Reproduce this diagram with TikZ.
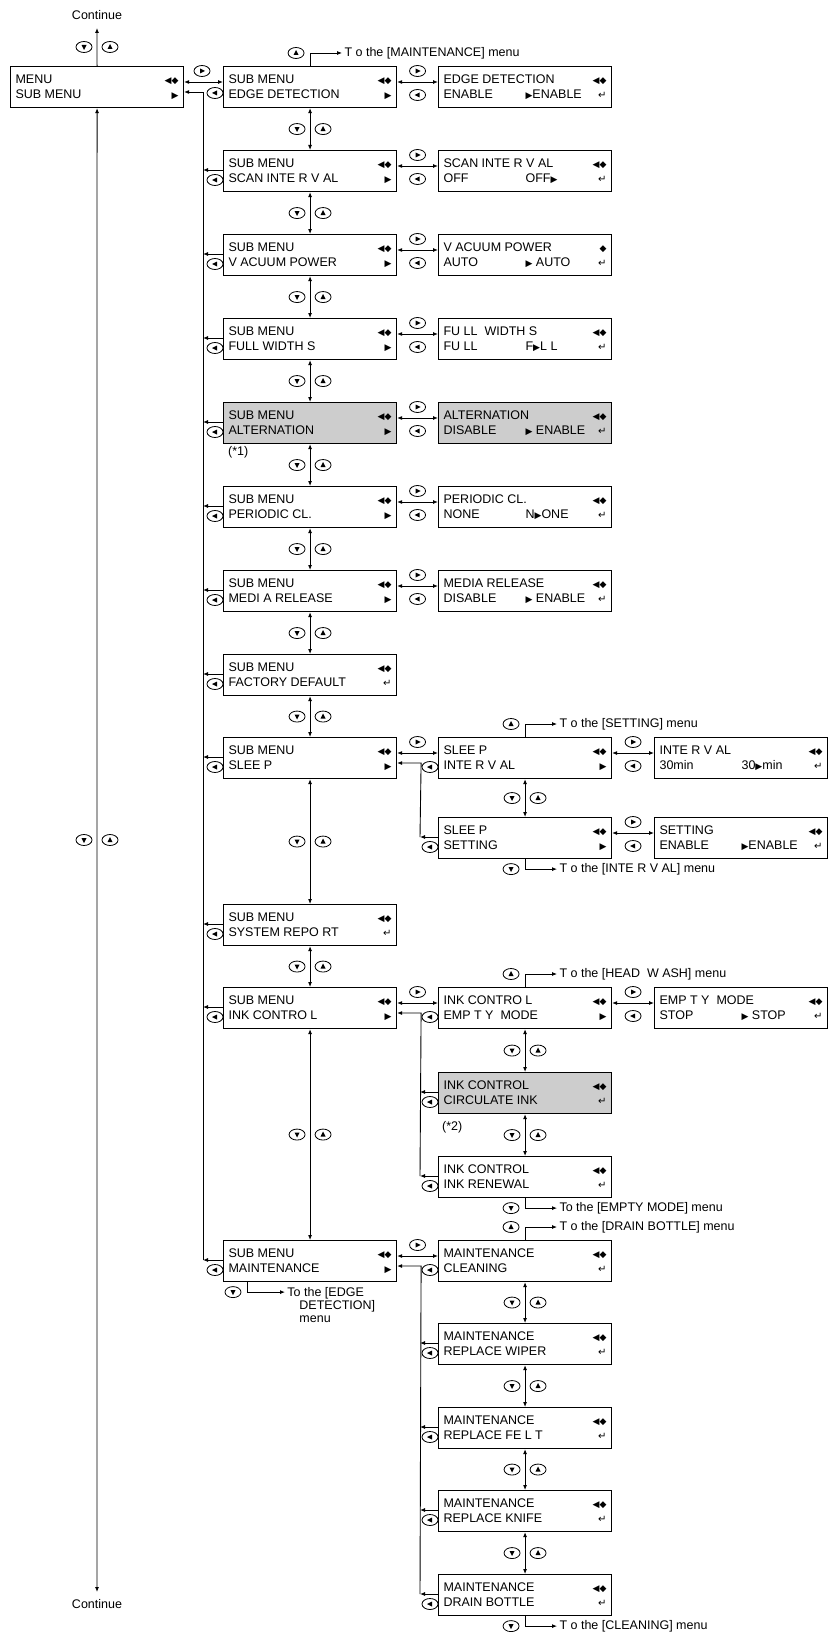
\documentclass[tikz,border=0pt]{standalone}
\usepackage{fontspec}
\setmainfont{Liberation Sans}
\newfontfamily\symf{DejaVu Sans}
\usetikzlibrary{arrows.meta}
\usetikzlibrary{calc}
\usetikzlibrary{positioning}
\definecolor{shade}{RGB}{205,205,205}

\newcommand{\lr}{{\symf\small ◀◆}}
\newcommand{\ud}{{\symf\small ◆}}
\newcommand{\rt}{{\symf\small ▶}}
\newcommand{\ent}{{\symf\normalsize ↵}}
\newcommand{\two}[4]{\makebox[163pt][l]{#1\hfill#2}\\\makebox[163pt][l]{#3\hfill#4}}
\newcommand{\val}[3]{\makebox[82pt][l]{#1}#2#3}

\tikzset{
  menubox/.style={draw, line width=1.1pt, anchor=north west, minimum width=173pt,
    minimum height=41pt, inner xsep=5pt, inner ysep=2pt, align=left,
    font=\fontsize{12.5}{15}\selectfont},
  lbl/.style={font=\fontsize{12.5}{13}\selectfont, inner sep=2pt},
  link/.style={line width=0.9pt},
  kr/.pic={\draw[line width=0.8pt] (0,0) ellipse [x radius=8, y radius=5.5];
           \fill (3,0) -- (-2,-2.5) -- (-2,2.5) -- cycle;},
  kl/.pic={\draw[line width=0.8pt] (0,0) ellipse [x radius=8, y radius=5.5];
           \fill (-3,0) -- (2,-2.5) -- (2,2.5) -- cycle;},
  ku/.pic={\draw[line width=0.8pt] (0,0) ellipse [x radius=8, y radius=5.5];
           \fill (0,-3) -- (-2.5,2) -- (2.5,2) -- cycle;},
  kd/.pic={\draw[line width=0.8pt] (0,0) ellipse [x radius=8, y radius=5.5];
           \fill (0,3) -- (-2.5,-2) -- (2.5,-2) -- cycle;}
}

\newcommand{\toup}[2]{%
  \draw[link,->] (#1.north) -- ++(0,-13) -- ++(32,0) node[right,lbl] {#2};
  \pic at ($(#1.north)+(-14,-13)$) {ku};}
\newcommand{\todown}[2]{%
  \draw[link,->] (#1.south) -- ++(0,10) -- ++(32,0) node[right,lbl] {#2};
  \pic at ($(#1.south)+(-14,10)$) {kd};}

\begin{document}
\begin{tikzpicture}[x=1pt, y=-1pt, >={Latex[length=5pt,width=4pt]}]
  \useasboundingbox (0,0) rectangle (834,1632);

  % first column
  \node[menubox, minimum width=173pt] (menu) at (10,66) {\two{MENU}{\lr}{SUB MENU}{\rt}};
  \coordinate (ctop) at (97,28);
  \coordinate (cbot) at (97,1592);
  \node[lbl] (conta) at (97,15) {Continue};
  \node[lbl] (contb) at (97,1604) {Continue};

  % second column
  \node[menubox] (e1) at (223,66)   {\two{SUB MENU}{\lr}{EDGE DETECTION}{\rt}};
  \node[menubox] (e2) at (223,150)  {\two{SUB MENU}{\lr}{SCAN INTE R V AL}{\rt}};
  \node[menubox] (e3) at (223,234)  {\two{SUB MENU}{\lr}{V ACUUM POWER}{\rt}};
  \node[menubox] (e4) at (223,318)  {\two{SUB MENU}{\lr}{FULL WIDTH S}{\rt}};
  \node[menubox, fill=shade] (e5) at (223,402) {\two{SUB MENU}{\lr}{ALTERNATION}{\rt}};
  \node[menubox] (e6) at (223,486)  {\two{SUB MENU}{\lr}{PERIODIC CL.}{\rt}};
  \node[menubox] (e7) at (223,570)  {\two{SUB MENU}{\lr}{MEDI A RELEASE}{\rt}};
  \node[menubox] (e8) at (223,654)  {\two{SUB MENU}{\lr}{FACTORY DEFAULT}{\ent}};
  \node[menubox] (e9) at (223,737)  {\two{SUB MENU}{\lr}{SLEE P}{\rt}};
  \node[menubox] (e10) at (223,904) {\two{SUB MENU}{\lr}{SYSTEM REPO RT}{\ent}};
  \node[menubox] (e11) at (223,987) {\two{SUB MENU}{\lr}{INK CONTRO L}{\rt}};
  \node[menubox] (e12) at (223,1240) {\two{SUB MENU}{\lr}{MAINTENANCE}{\rt}};
  \node[lbl, anchor=west] (n1) at (226,452) {(*1)};

  % third column
  \node[menubox] (s1) at (438,66)  {\two{EDGE DETECTION}{\lr}{\val{ENABLE}{\rt}{ENABLE}}{\ent}};
  \node[menubox] (s2) at (438,150) {\two{SCAN INTE R V AL}{\lr}{\val{OFF}{}{OFF\rt}}{\ent}};
  \node[menubox] (s3) at (438,234) {\two{V ACUUM POWER}{\ud}{\val{AUTO}{\rt}{\ AUTO}}{\ent}};
  \node[menubox] (s4) at (438,318) {\two{FU LL\ \ WIDTH S}{\lr}{\val{FU LL}{}{F\rt L L}}{\ent}};
  \node[menubox, fill=shade] (s5) at (438,402) {\two{ALTERNATION}{\lr}{\val{DISABLE}{\rt}{\ ENABLE}}{\ent}};
  \node[menubox] (s6) at (438,486) {\two{PERIODIC CL.}{\lr}{\val{NONE}{}{N\rt ONE}}{\ent}};
  \node[menubox] (s7) at (438,570) {\two{MEDIA RELEASE}{\lr}{\val{DISABLE}{\rt}{\ ENABLE}}{\ent}};
  \node[menubox] (sl1) at (438,737) {\two{SLEE P}{\lr}{INTE R V AL}{\rt}};
  \node[menubox] (sl2) at (438,817) {\two{SLEE P}{\lr}{SETTING}{\rt}};
  \node[menubox] (ik1) at (438,987) {\two{INK CONTRO L}{\lr}{EMP T Y\ \ MODE}{\rt}};
  \node[menubox, fill=shade] (ik2) at (438,1072) {\two{INK CONTROL}{\lr}{CIRCULATE INK}{\ent}};
  \node[menubox] (ik3) at (438,1156) {\two{INK CONTROL}{\lr}{INK RENEWAL}{\ent}};
  \node[menubox] (mt1) at (438,1240) {\two{MAINTENANCE}{\lr}{CLEANING}{\ent}};
  \node[menubox] (mt2) at (438,1323) {\two{MAINTENANCE}{\lr}{REPLACE WIPER}{\ent}};
  \node[menubox] (mt3) at (438,1407) {\two{MAINTENANCE}{\lr}{REPLACE FE L T}{\ent}};
  \node[menubox] (mt4) at (438,1490) {\two{MAINTENANCE}{\lr}{REPLACE KNIFE}{\ent}};
  \node[menubox] (mt5) at (438,1574) {\two{MAINTENANCE}{\lr}{DRAIN BOTTLE}{\ent}};
  \node[lbl, anchor=west] (n2) at (440,1127) {(*2)};

  % fourth column
  \node[menubox] (iv) at (654,737) {\two{INTE R V AL}{\lr}{\val{30min}{}{30\rt min}}{\ent}};
  \node[menubox] (st) at (654,817) {\two{SETTING}{\lr}{\val{ENABLE}{\rt}{ENABLE}}{\ent}};
  \node[menubox] (em) at (654,987) {\two{EMP T Y\ \ MODE}{\lr}{\val{STOP}{\rt}{\ STOP}}{\ent}};

  % continue lines
  \draw[link,->] (menu.north) -- (ctop);
  \pic at (84,47) {kd}; \pic at (110,47) {ku};
  \draw[link,<->] (menu.south) -- (cbot);
  \pic at (84,840) {kd}; \pic at (110,840) {ku};

  % menu to sub menus
  \draw[link,<->] ($(menu.north east)+(0,16)$) -- ($(e1.north west)+(0,16)$);
  \pic at (202,71) {kr};
  \draw[link,->] ($(e12.north west)+(-20,20)$) -- ($(e1.north west)+(-20,26)$) -- ($(menu.north east)+(0,26)$);
  \pic at ($(e1.north west)+(-8,27)$) {kl};
  \foreach \n in {e2,e3,e4,e5,e6,e7,e8,e9,e10,e11,e12} {
    \draw[link,->] ($(\n.north west)+(0,20)$) -- ++(-20,0);
    \pic at ($(\n.north west)+(-8,30)$) {kl};
  }

  % up and down between boxes
  \foreach \a/\b in {e1/e2,e2/e3,e3/e4,e4/e5,e5/e6,e6/e7,e7/e8,e8/e9,e9/e10,e10/e11,e11/e12,
                     sl1/sl2,ik1/ik2,ik2/ik3,mt1/mt2,mt2/mt3,mt3/mt4,mt4/mt5} {
    \draw[link,<->] (\a.south) -- (\b.north);
    \pic at ($(\a.south)!0.5!(\b.north)+(-13,0)$) {kd};
    \pic at ($(\a.south)!0.5!(\b.north)+(13,0)$) {ku};
  }

  % across to the settings
  \foreach \a/\b in {e1/s1,e2/s2,e3/s3,e4/s4,e5/s5,e6/s6,e7/s7,sl1/iv,sl2/st,ik1/em} {
    \draw[link,<->] ($(\a.north east)+(0,16)$) -- ($(\b.north west)+(0,16)$);
    \pic at ($(\a.north east)!0.5!(\b.north west)+(0,5)$) {kr};
    \pic at ($(\a.north east)!0.5!(\b.north west)+(0,29)$) {kl};
  }
  \foreach \a/\b in {e9/sl1,e11/ik1,e12/mt1} {
    \draw[link,<->] ($(\a.north east)+(0,16)$) -- ($(\b.north west)+(0,16)$);
    \pic at ($(\a.north east)!0.5!(\b.north west)+(0,5)$) {kr};
    \pic at ($(\b.north west)+(-8,30)$) {kl};
  }

  % return lines of the sub groups
  \foreach \t/\l/\g in {e9/sl2/sl2, e11/ik3/{ik2,ik3}, e12/mt5/{mt2,mt3,mt4,mt5}} {
    \draw[link,->] ($(\l.north west)+(-18,20)$) -- ($(\t.north east)+(24,26)$) -- ($(\t.north east)+(0,26)$);
    \foreach \n in \g {
      \draw[link,->] ($(\n.north west)+(0,20)$) -- ++(-18,0);
      \pic at ($(\n.north west)+(-8,30)$) {kl};
    }
  }

  % jumps to other menus
  \toup{e1}{T o the [MAINTENANCE] menu}
  \toup{sl1}{T o the [SETTING] menu}
  \todown{sl2}{T o the [INTE R V AL] menu}
  \toup{ik1}{T o the [HEAD\ \ W ASH] menu}
  \todown{ik3}{To the [EMPTY MODE] menu}
  \toup{mt1}{T o the [DRAIN BOTTLE] menu}
  \todown{mt5}{T o the [CLEANING] menu}
  \draw[link,->] ($(e12.south west)+(24,0)$) -- ++(0,10) -- ++(38,0)
    node[right, lbl, anchor=north west, yshift=7pt, align=left]
    {To the [EDGE\\\hspace{12pt}DETECTION]\\\hspace{12pt}menu};
  \pic at ($(e12.south west)+(10,10)$) {kd};
\end{tikzpicture}
\end{document}
